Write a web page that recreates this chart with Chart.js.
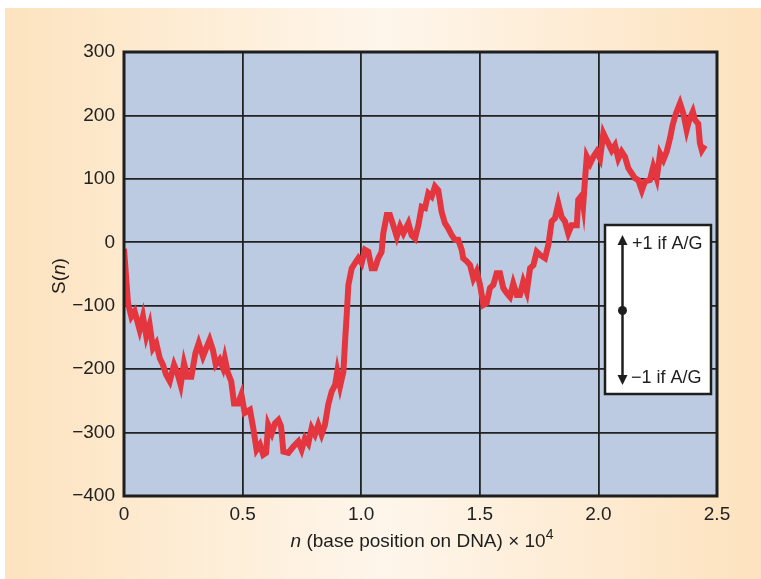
<!DOCTYPE html>
<html>
<head>
<meta charset="utf-8">
<script src="https://cdn.jsdelivr.net/npm/chart.js@4/dist/chart.umd.min.js"></script>
<style>
  html, body { margin: 0; padding: 0; background: #fff; }
  #c { display: block; }
</style>
</head>
<body>
<canvas id="c" width="761" height="579"></canvas>
<script>
// base position (units of 10^4) and walk value S(n)
var posN = [0, 0.017, 0.031, 0.045, 0.066, 0.080, 0.094, 0.108, 0.122, 0.136,
  0.151, 0.164, 0.178, 0.193, 0.211, 0.225, 0.239, 0.253, 0.267, 0.284,
  0.301, 0.315, 0.333, 0.347, 0.361, 0.375, 0.387, 0.403, 0.417, 0.425,
  0.438, 0.452, 0.464, 0.481, 0.495, 0.509, 0.531, 0.545, 0.559, 0.573,
  0.587, 0.599, 0.608, 0.623, 0.637, 0.651, 0.662, 0.672, 0.693, 0.714,
  0.735, 0.749, 0.763, 0.777, 0.791, 0.805, 0.819, 0.833, 0.847, 0.861,
  0.876, 0.890, 0.899, 0.911, 0.925, 0.932, 0.939, 0.946, 0.960, 0.974,
  0.988, 1.002, 1.016, 1.030, 1.044, 1.058, 1.072, 1.086, 1.093, 1.108,
  1.121, 1.135, 1.150, 1.164, 1.178, 1.199, 1.213, 1.227, 1.241, 1.255,
  1.269, 1.283, 1.297, 1.311, 1.325, 1.339, 1.353, 1.367, 1.382, 1.395,
  1.409, 1.424, 1.430, 1.445, 1.459, 1.473, 1.487, 1.501, 1.515, 1.529,
  1.543, 1.557, 1.571, 1.585, 1.599, 1.613, 1.627, 1.641, 1.656, 1.669,
  1.683, 1.698, 1.712, 1.726, 1.740, 1.754, 1.775, 1.789, 1.803, 1.817,
  1.831, 1.845, 1.859, 1.873, 1.887, 1.909, 1.915, 1.930, 1.936, 1.943,
  1.951, 1.965, 1.979, 1.993, 2.007, 2.021, 2.035, 2.042, 2.056, 2.070,
  2.084, 2.098, 2.112, 2.126, 2.140, 2.154, 2.168, 2.183, 2.196, 2.217,
  2.231, 2.246, 2.260, 2.274, 2.288, 2.302, 2.313, 2.327, 2.344, 2.358,
  2.372, 2.383, 2.398, 2.407, 2.421, 2.428, 2.436, 2.449];
var walkS = [-10, -96, -117, -109, -138, -117, -148, -130, -167, -159,
  -183, -193, -209, -219, -193, -206, -225, -191, -212, -212,
  -175, -159, -180, -167, -154, -170, -193, -185, -198, -183,
  -206, -219, -254, -254, -240, -269, -264, -293, -327, -319,
  -335, -332, -288, -301, -285, -280, -290, -330, -332, -322,
  -314, -327, -309, -317, -293, -303, -288, -303, -288, -256,
  -235, -225, -204, -227, -204, -156, -114, -67, -41, -33,
  -25, -33, -12, -15, -41, -41, -25, -15, 14, 43,
  43, 27, 9, 25, 14, 30, 11, 6, 27, 56,
  54, 77, 72, 88, 82, 48, 30, 22, 11, 4,
  4, -12, -25, -30, -36, -57, -46, -67, -99, -96,
  -72, -67, -49, -49, -72, -80, -86, -65, -83, -83,
  -62, -78, -41, -36, -15, -20, -25, -4, 33, 38,
  61, 40, 33, 14, 27, 27, 67, 74, 59, 96,
  135, 124, 135, 143, 132, 172, 161, 156, 145, 153,
  132, 143, 135, 117, 109, 101, 98, 82, 96, 98,
  119, 101, 140, 130, 143, 164, 185, 203, 219, 203,
  177, 193, 206, 193, 187, 156, 145, 153];

var xTicks = [0, 0.5, 1.0, 1.5, 2.0, 2.5];
var yTicks = [300, 200, 100, 0, -100, -200, -300, -400];
var legendUp = "+1 if A/G";
var legendDown = "\u22121 if A/G";

var FONT = '"Liberation Sans", Arial, sans-serif';

var decor = {
  id: 'decor',
  beforeDraw: function(chart) {
    var ctx = chart.ctx, a = chart.chartArea;
    ctx.save();
    ctx.fillStyle = '#ffffff';
    ctx.fillRect(0, 0, chart.width, chart.height);
    var g = ctx.createLinearGradient(5, 0, chart.width, 0);
    g.addColorStop(0, '#fde3bf');
    g.addColorStop(0.5, '#fef6eb');
    g.addColorStop(1, '#fde2be');
    ctx.fillStyle = g;
    ctx.fillRect(5, 8, chart.width - 5, chart.height - 8);
    ctx.fillStyle = '#bccbe2';
    ctx.fillRect(a.left, a.top, a.right - a.left, a.bottom - a.top);
    ctx.restore();
  },
  afterDraw: function(chart) {
    var ctx = chart.ctx, a = chart.chartArea;
    ctx.save();
    // frame
    ctx.strokeStyle = '#1e1e1e';
    ctx.lineWidth = 3;
    ctx.strokeRect(a.left, a.top, a.right - a.left, a.bottom - a.top);

    // legend box
    var bx = 605, by = 225, bw = 106, bh = 169;
    ctx.fillStyle = '#ffffff';
    ctx.fillRect(bx, by, bw, bh);
    ctx.lineWidth = 2.5;
    ctx.strokeRect(bx, by, bw, bh);
    var ax = 622.5;
    ctx.strokeStyle = '#1e1e1e';
    ctx.lineWidth = 2.5;
    ctx.beginPath();
    ctx.moveTo(ax, 243); ctx.lineTo(ax, 377);
    ctx.stroke();
    ctx.fillStyle = '#1e1e1e';
    ctx.beginPath();
    ctx.moveTo(ax, 235); ctx.lineTo(ax - 5, 245); ctx.lineTo(ax + 5, 245); ctx.closePath();
    ctx.fill();
    ctx.beginPath();
    ctx.moveTo(ax, 385); ctx.lineTo(ax - 5, 375); ctx.lineTo(ax + 5, 375); ctx.closePath();
    ctx.fill();
    ctx.beginPath();
    ctx.arc(ax, 310.5, 4.5, 0, Math.PI * 2);
    ctx.fill();
    ctx.font = '18px ' + FONT;
    ctx.textAlign = 'left';
    ctx.textBaseline = 'alphabetic';
    ctx.fillText(legendUp, 632, 249);
    ctx.fillText(legendDown, 631, 383);

    // x axis title
    var parts = [
      {t: 'n', f: 'italic 19px ' + FONT, dy: 0},
      {t: ' (base position on DNA) \u00d7 10', f: '19px ' + FONT, dy: 0},
      {t: '4', f: '14px ' + FONT, dy: -8}
    ];
    var total = 0;
    parts.forEach(function(p) { ctx.font = p.f; p.w = ctx.measureText(p.t).width; total += p.w; });
    var x = 422 - total / 2;
    parts.forEach(function(p) { ctx.font = p.f; ctx.fillText(p.t, x, 547 + p.dy); x += p.w; });

    // y axis title
    ctx.translate(65, 276);
    ctx.rotate(-Math.PI / 2);
    var yp = [
      {t: 'S(', f: '19px ' + FONT},
      {t: 'n', f: 'italic 19px ' + FONT},
      {t: ')', f: '19px ' + FONT}
    ];
    total = 0;
    yp.forEach(function(p) { ctx.font = p.f; p.w = ctx.measureText(p.t).width; total += p.w; });
    x = -total / 2;
    yp.forEach(function(p) { ctx.font = p.f; ctx.fillText(p.t, x, 0); x += p.w; });
    ctx.restore();
  }
};

var points = posN.map(function(v, i) { return {x: v, y: walkS[i]}; });

new Chart(document.getElementById('c'), {
  type: 'line',
  data: {
    datasets: [{
      data: points,
      borderColor: '#e3363e',
      borderWidth: 6,
      pointRadius: 0,
      tension: 0,
      fill: false,
      borderJoinStyle: 'miter'
    }]
  },
  options: {
    responsive: false,
    animation: false,
    devicePixelRatio: 1,
    layout: { padding: { left: 0, top: 52, right: 44, bottom: 0 } },
    plugins: { legend: { display: false }, tooltip: { enabled: false } },
    scales: {
      x: {
        type: 'linear',
        min: 0, max: 2.5,
        afterBuildTicks: function(s) { s.ticks = xTicks.map(function(v) { return {value: v}; }); },
        afterFit: function(s) { s.height = 83; },
        grid: { color: '#222', lineWidth: 1.8, drawTicks: false },
        border: { display: false },
        ticks: {
          padding: 7,
          color: '#222',
          font: { family: FONT, size: 19 },
          callback: function(v) { return v === 0 ? '0' : v.toFixed(1); }
        }
      },
      y: {
        min: -400, max: 300,
        afterBuildTicks: function(s) { s.ticks = yTicks.map(function(v) { return {value: v}; }); },
        afterFit: function(s) { s.width = 124; },
        grid: { color: '#222', lineWidth: 1.8, drawTicks: false },
        border: { display: false },
        ticks: {
          padding: 9,
          color: '#222',
          font: { family: FONT, size: 19 },
          callback: function(v) { return String(v).replace('-', '\u2212'); }
        }
      }
    }
  },
  plugins: [decor]
});
</script>
</body>
</html>
